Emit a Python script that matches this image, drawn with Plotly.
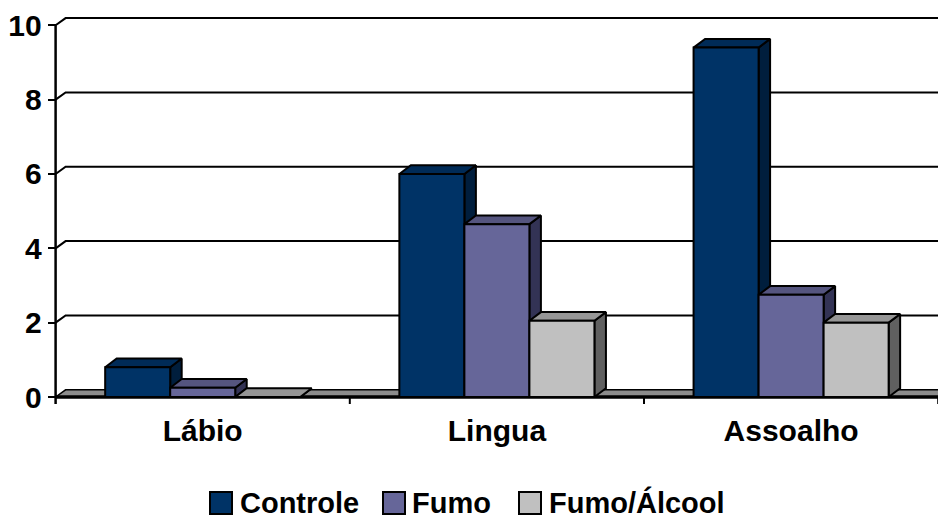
import plotly.graph_objects as go

# Data
categories = ["Lábio", "Lingua", "Assoalho"]
series_names = ["Controle", "Fumo", "Fumo/Álcool"]
controle = [0.8, 6.0, 9.4]
fumo = [0.25, 4.65, 2.75]
fumo_alcool = [0.0, 2.05, 2.0]
y_ticks = [0, 2, 4, 6, 8, 10]

series_values = [controle, fumo, fumo_alcool]

# Face colours (front, top, side) per series
face_colors = [
    ("#003366", "#002b57", "#001e3d"),
    ("#666699", "#55557f", "#333355"),
    ("#c0c0c0", "#969696", "#606060"),
]
FLOOR_COLOR = "#8c8c8c"
FONT = "Liberation Sans"

# Pixel geometry of the plot area
W, H = 938, 520
M_T, M_B = 10, 110
PX_X = 294.2          # pixels per category
PX_Y = 37.17          # pixels per unit of value
AXIS_PX = 55.6        # pixel position of the value axis (x = -0.5)

x_left = -0.5 - AXIS_PX / PX_X
x_right = -0.5 + (W - AXIS_PX) / PX_X
plot_h = H - M_T - M_B
zero_px = 397 - M_T   # zero line measured from the plot top
y_top = zero_px / PX_Y
y_bottom = -(plot_h - zero_px) / PX_Y

# 3D depth offsets expressed in axis units
BAR_DX, BAR_DY = 11.5 / PX_X, 8.7 / PX_Y
WALL_DX, WALL_DY = 10.0 / PX_X, 7.2 / PX_Y
BAR_W = 0.221
offsets = [-BAR_W, 0.0, BAR_W]

fig = go.Figure()


def poly_trace(xs, ys, fill, width=2):
    return go.Scatter(
        x=xs, y=ys, mode="lines", fill="toself", fillcolor=fill,
        line=dict(color="black", width=width), hoverinfo="skip",
        showlegend=False,
    )


def line_trace(xs, ys, width=2):
    return go.Scatter(
        x=xs, y=ys, mode="lines", line=dict(color="black", width=width),
        hoverinfo="skip", showlegend=False,
    )


# Back wall gridlines with the short diagonal on the side wall
gx, gy = [], []
for v in y_ticks[1:]:
    gx += [-0.5, -0.5 + WALL_DX, x_right + 1, None]
    gy += [v, v + WALL_DY, v + WALL_DY, None]
fig.add_trace(line_trace(gx, gy, 2))

# Floor
fig.add_trace(poly_trace(
    [-0.5, x_right + 1, x_right + 1, -0.5 + WALL_DX, -0.5],
    [0, 0, WALL_DY, WALL_DY, 0], FLOOR_COLOR, 1.5))
fig.add_trace(line_trace([-0.5, x_right + 1], [0, 0], 3.5))

# Bars: side, top and front faces for each series
for s, (vals, (c_front, c_top, c_side)) in enumerate(zip(series_values, face_colors)):
    sx, sy, tx, ty, fx, fy = [], [], [], [], [], []
    for i, v in enumerate(vals):
        x0 = i + offsets[s] - BAR_W / 2
        x1 = x0 + BAR_W
        sx += [x1, x1 + BAR_DX, x1 + BAR_DX, x1, x1, None]
        sy += [0, BAR_DY, v + BAR_DY, v, 0, None]
        tx += [x0, x1, x1 + BAR_DX, x0 + BAR_DX, x0, None]
        ty += [v, v, v + BAR_DY, v + BAR_DY, v, None]
        if v > 0:
            fx += [x0, x1, x1, x0, x0, None]
            fy += [0, 0, v, v, 0, None]
    fig.add_trace(poly_trace(sx, sy, c_side))
    fig.add_trace(poly_trace(tx, ty, c_top))
    if fx:
        fig.add_trace(poly_trace(fx, fy, c_front))

# Value axis line and category boundary ticks
tick_len = 7 / PX_Y
fig.add_trace(line_trace([-0.5, -0.5], [-tick_len, y_ticks[-1]], 2.5))
bx, by = [], []
for b in [0.5, 1.5, 2.5]:
    bx += [b, b, None]
    by += [0, -tick_len, None]
fig.add_trace(line_trace(bx, by, 2))

# Legend drawn as swatches and labels under the chart
legend_swatch_px = [210, 383, 519]
legend_text_px = [238, 410, 547]
sw_top, sw_bot, text_mid = 492, 514, 502.5


def py(p):
    return (H - M_B - p) / plot_h


shapes = []
annotations = []
for name, (c_front, _, _), sx_px, tx_px in zip(series_names, face_colors,
                                               legend_swatch_px, legend_text_px):
    shapes.append(dict(
        type="rect", xref="paper", yref="paper",
        x0=sx_px / W, x1=(sx_px + 22) / W, y0=py(sw_bot), y1=py(sw_top),
        fillcolor=c_front, line=dict(color="black", width=2),
    ))
    annotations.append(dict(
        text="<b>" + name + "</b>", xref="paper", yref="paper",
        x=tx_px / W, y=py(text_mid),
        xanchor="left", yanchor="middle", showarrow=False,
        font=dict(family=FONT, size=29, color="black"),
    ))

fig.update_layout(
    width=W, height=H, autosize=False,
    margin=dict(l=0, r=0, t=M_T, b=M_B),
    paper_bgcolor="white", plot_bgcolor="white",
    showlegend=False,
    shapes=shapes, annotations=annotations,
    xaxis=dict(
        range=[x_left, x_right], tickvals=[0, 1, 2],
        ticktext=["<b>" + c + "</b>" for c in categories],
        showgrid=False, zeroline=False, showline=False, ticks="",
        tickfont=dict(family=FONT, size=30, color="black"),
        automargin=False, fixedrange=True,
    ),
    yaxis=dict(
        range=[y_bottom, y_top], tickvals=y_ticks,
        ticktext=["<b>%d</b>" % t for t in y_ticks],
        anchor="free", position=AXIS_PX / W,
        showgrid=False, zeroline=False, showline=False,
        ticks="outside", ticklen=8, tickwidth=2, tickcolor="black",
        tickfont=dict(family=FONT, size=30, color="black"),
        automargin=False, fixedrange=True,
    ),
)

fig.write_html("out.html")
